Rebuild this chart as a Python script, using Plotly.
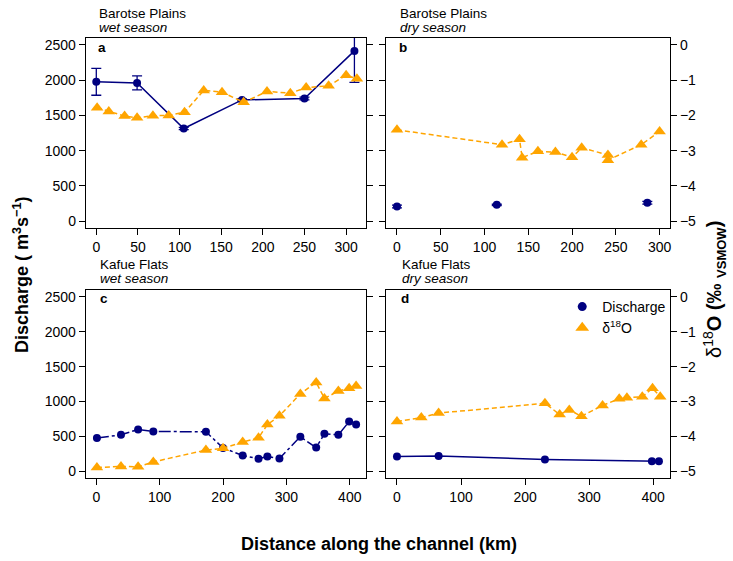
import plotly.graph_objects as go

W, H = 733, 561
NAVY = "#000080"
ORANGE = "#FFA500"

# ---------------- data ----------------
# Panel a: Barotse Plains, wet season
a_q_x = [0, 49, 105, 175, 250, 310]
a_q = [1976, 1961, 1314, 1720, 1739, 2415]
a_q_err = [190, 100, 15, 15, 20, 445]
a_d_x = [1, 15, 34, 49, 68, 87, 106, 129, 151, 177, 205, 233, 252, 279, 300, 313]
a_d = [-1.78, -1.89, -2.02, -2.07, -2.01, -2.0, -1.91, -1.29, -1.34, -1.63,
       -1.32, -1.37, -1.21, -1.16, -0.86, -0.96]

# Panel b: Barotse Plains, dry season
b_q_x = [0, 114, 286]
b_q = [208, 232, 261]
b_q_err = [20, 10, 20]
b_d_x = [0, 120, 140, 143, 161, 181, 200, 211, 241, 241, 279, 300]
b_d = [-2.41, -2.83, -2.68, -3.20, -3.02, -3.04, -3.19, -2.92, -3.12, -3.27, -2.83, -2.46]

# Panel c: Kafue Flats, wet season
c_x = [1, 39, 66, 90, 173, 200, 231, 256, 270, 289, 322, 347, 360, 382, 399, 410]
c_q = [476, 524, 600, 571, 567, 335, 227, 179, 213, 184, 496, 340, 539, 524, 713, 671]
c_d = [-4.89, -4.86, -4.87, -4.73, -4.39, -4.34, -4.16, -4.04, -3.66, -3.41,
       -2.78, -2.45, -2.91, -2.70, -2.62, -2.55]

# Panel d: Kafue Flats, dry season
d_q_x = [0, 65, 231, 398, 409]
d_q = [213, 221, 170, 146, 146]
d_d_x = [0, 38, 65, 231, 254, 269, 288, 321, 347, 359, 383, 399, 411]
d_d = [-3.57, -3.46, -3.33, -3.05, -3.37, -3.24, -3.42, -3.11, -2.92, -2.89, -2.86, -2.62, -2.86]

q_ticks = [0, 500, 1000, 1500, 2000, 2500]
d_ticks = [-5, -4, -3, -2, -1, 0]
xa_ticks = [0, 50, 100, 150, 200, 250, 300]
xc_ticks = [0, 100, 200, 300, 400]

# ---------------- layout geometry ----------------
def px_x(p):
    return p / W

def px_y(p):
    return 1 - p / H

left_dom = [px_x(86), px_x(367)]
right_dom = [px_x(387), px_x(671)]
top_dom = [px_y(228), px_y(37)]
bot_dom = [px_y(479), px_y(290)]

FONT = "Liberation Sans, Arial, Helvetica, sans-serif"
TICKFONT = dict(family=FONT, size=14, color="black")
LW = 1.3

fig = go.Figure()

def add_q(x, y, xa, ya, err=None, dash="solid", line=True):
    fig.add_trace(go.Scatter(
        x=x, y=y, xaxis=xa, yaxis=ya,
        mode="lines+markers" if line else "markers",
        line=dict(color=NAVY, width=1.5, dash=dash),
        marker=dict(color=NAVY, size=8, symbol="circle"),
        error_y=dict(type="data", array=err, visible=True, color=NAVY,
                     thickness=1.3, width=5) if err is not None else None,
        showlegend=False, cliponaxis=False if err is None else True,
    ))

def add_d(x, y, xa, ya):
    fig.add_trace(go.Scatter(
        x=x, y=y, xaxis=xa, yaxis=ya, mode="lines+markers",
        line=dict(color=ORANGE, width=1.5, dash="5px,3px"),
        marker=dict(color=ORANGE, size=11, symbol="triangle-up"),
        showlegend=False, cliponaxis=False,
    ))

# Panel a
add_q(a_q_x, a_q, "x", "y", err=a_q_err)
add_d(a_d_x, a_d, "x", "y2")
# Panel b
add_q(b_q_x, b_q, "x2", "y3", err=b_q_err, line=False)
add_d(b_d_x, b_d, "x2", "y4")
# Panel c
add_q(c_x, c_q, "x3", "y5", dash="12px,3px,3px,3px")
add_d(c_x, c_d, "x3", "y6")
# Panel d
add_q(d_q_x, d_q, "x4", "y7")
add_d(d_d_x, d_d, "x4", "y8")

# legend entries
fig.add_trace(go.Scatter(x=[None], y=[None], xaxis="x4", yaxis="y7", mode="markers",
                         marker=dict(color=NAVY, size=9, symbol="circle"),
                         name="Discharge", showlegend=True))
fig.add_trace(go.Scatter(x=[None], y=[None], xaxis="x4", yaxis="y8", mode="markers",
                         marker=dict(color=ORANGE, size=12, symbol="triangle-up"),
                         name="δ<sup>18</sup>O", showlegend=True))

def xaxis(dom, anchor, rng, ticks):
    return dict(domain=dom, anchor=anchor, range=rng, tickvals=ticks,
                showline=True, linecolor="black", linewidth=LW, mirror=True,
                ticks="outside", ticklen=6, tickwidth=LW, tickcolor="black",
                tickfont=TICKFONT, showgrid=False, zeroline=False)

def qaxis(dom, anchor, labels):
    return dict(domain=dom, anchor=anchor, range=[-100, 2600], tickvals=q_ticks,
                showline=True, linecolor="black", linewidth=LW, mirror=True,
                ticks="outside", ticklen=6, tickwidth=LW, tickcolor="black",
                showticklabels=labels, tickfont=TICKFONT,
                showgrid=False, zeroline=False)

def daxis(overlay, anchor, labels):
    return dict(overlaying=overlay, anchor=anchor, side="right", range=[-5.2, 0.2],
                tickvals=d_ticks, showline=False,
                ticks="outside", ticklen=6, tickwidth=LW, tickcolor="black",
                showticklabels=labels, tickfont=TICKFONT,
                showgrid=False, zeroline=False)

fig.update_layout(
    width=W, height=H, margin=dict(l=0, r=0, t=0, b=0),
    paper_bgcolor="white", plot_bgcolor="white",
    font=dict(family=FONT, color="black"),
    xaxis=xaxis(left_dom, "y", [-12.5, 324.5], xa_ticks),
    yaxis=qaxis(top_dom, "x", True),
    yaxis2=daxis("y", "x", False),
    xaxis2=xaxis(right_dom, "y3", [-12, 312], xa_ticks),
    yaxis3=qaxis(top_dom, "x2", False),
    yaxis4=daxis("y3", "x2", True),
    xaxis3=xaxis(left_dom, "y5", [-16.4, 426.4], xc_ticks),
    yaxis5=qaxis(bot_dom, "x3", True),
    yaxis6=daxis("y5", "x3", False),
    xaxis4=xaxis(right_dom, "y7", [-16.4, 426.4], xc_ticks),
    yaxis7=qaxis(bot_dom, "x4", False),
    yaxis8=daxis("y7", "x4", True),
    legend=dict(x=px_x(563), y=px_y(291), xanchor="left", yanchor="top",
                bgcolor="rgba(0,0,0,0)", font=dict(family=FONT, size=14, color="black"),
                tracegroupgap=0, itemwidth=30),
)

ann = []
def txt(text, x, y, size=13.5, xanchor="left", angle=0):
    ann.append(dict(text=text, x=px_x(x), y=px_y(y), xref="paper", yref="paper",
                    xanchor=xanchor, yanchor="middle", showarrow=False, textangle=angle,
                    font=dict(family=FONT, size=size, color="black")))

# panel titles
txt("Barotse Plains", 97, 13)
txt("<i>wet season</i>", 97, 27)
txt("Barotse Plains", 399, 13)
txt("<i>dry season</i>", 399, 27)
txt("Kafue Flats", 98, 264)
txt("<i>wet season</i>", 98, 278)
txt("Kafue Flats", 401, 264)
txt("<i>dry season</i>", 401, 278)
# panel letters
txt("<b>a</b>", 102, 47, size=13.5, xanchor="center")
txt("<b>b</b>", 404, 47, size=13.5, xanchor="center")
txt("<b>c</b>", 104, 299, size=13.5, xanchor="center")
txt("<b>d</b>", 406, 299, size=13.5, xanchor="center")
# axis titles
txt("<b>Distance along the channel (km)</b>", 380, 545, size=18, xanchor="center")
txt("<b>Discharge ( m<sup>3</sup>s<sup>−1</sup>)</b>", 21, 275, size=18, xanchor="center", angle=-90)
txt("δ<sup>18</sup><b>O (‰ <sub><span style='font-size:13px'>VSMOW</span></sub>)</b>", 716, 290,
    size=20, xanchor="center", angle=-90)

fig.update_layout(annotations=ann)
fig.write_html("out.html", config={"displayModeBar": False},
               post_script="document.body.style.margin='0px';document.body.style.overflow='hidden';")
